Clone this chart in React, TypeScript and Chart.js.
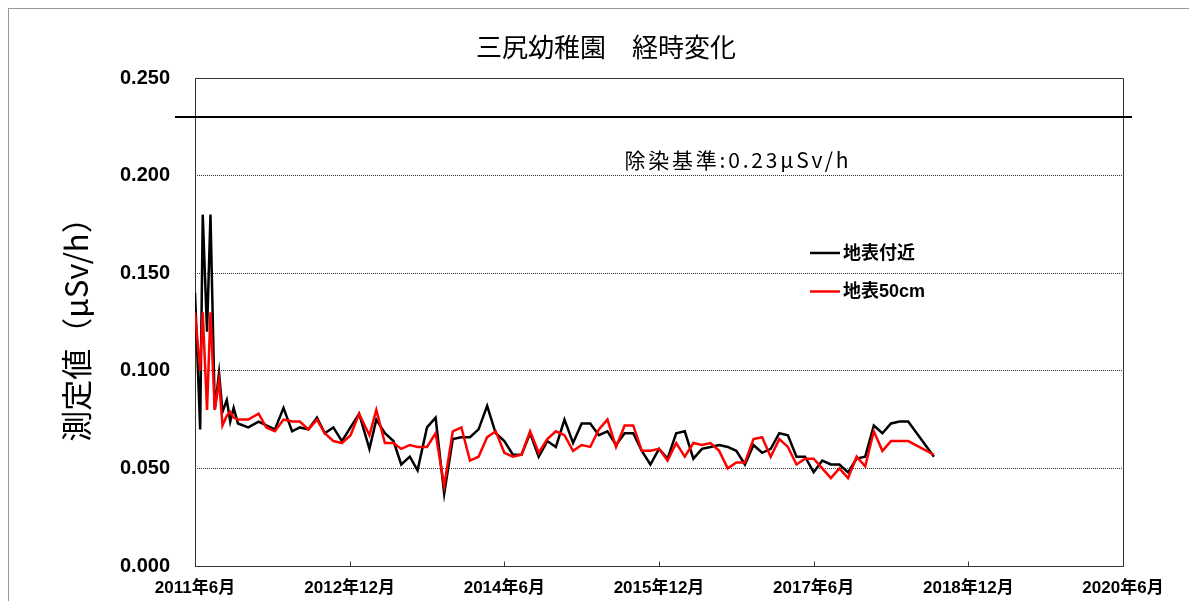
import React, { useEffect, useRef } from "react";
import { Chart, registerables } from "chart.js";

Chart.register(...registerables);

const TITLE = "三尻幼稚園　経時変化";
const Y_TITLE = "測定値（μSv/h）";
const SERIES_LABELS = ["地表付近", "地表50cm"];
const SERIES_COLORS = ["#000000", "#ff0000"];
const LIMIT_VALUE = 0.23;
const LIMIT_LABEL = "除染基準:0.23μSv/h";

// x axis: months elapsed since 2011年6月
const X_TICK_LABELS = ["2011年6月", "2012年12月", "2014年6月", "2015年12月", "2017年6月", "2018年12月", "2020年6月"];
const X_TICK_STEP = 18;
const Y_MAX = 0.25;
const Y_STEP = 0.05;

const MONTHS = [
  0, 0.6, 0.9, 1.4, 1.8, 2.3, 2.8, 3.2, 3.7, 4.1, 4.5, 5.0, 6.2, 7.4, 8.3, 9.3, 10.3, 11.3, 12.2, 13.2,
  14.2, 15.1, 16.1, 17.1, 18.1, 19.1, 20.3, 21.1, 22.1, 23.1, 24.0, 25.0, 25.9,
  27, 28, 29, 30, 31, 32, 33, 34, 35, 36, 37, 38, 39, 40, 41, 42, 43, 44, 45, 46, 47, 48, 49, 50,
  51, 52, 53, 54, 55, 56, 57, 58, 59, 60, 61, 62, 63, 64, 65, 66, 67, 68, 69, 70, 71, 72, 73, 74,
  75, 76, 77, 78, 79, 80, 81, 82, 83, 86,
];

const SURFACE = [
  0.140, 0.070, 0.180, 0.120, 0.180, 0.080, 0.099, 0.079, 0.085, 0.074, 0.081, 0.073, 0.071, 0.074, 0.072, 0.070, 0.081, 0.069, 0.071, 0.070,
  0.076, 0.068, 0.071, 0.064, 0.071, 0.078, 0.060, 0.075, 0.068, 0.064, 0.052, 0.056, 0.049,
  0.071, 0.076, 0.037, 0.065, 0.066, 0.066, 0.070, 0.082, 0.068, 0.064, 0.057, 0.057, 0.068, 0.056, 0.064, 0.061, 0.075, 0.063, 0.073, 0.073, 0.067, 0.069, 0.062, 0.068,
  0.068, 0.059, 0.052, 0.060, 0.055, 0.068, 0.069, 0.055, 0.060, 0.061, 0.062, 0.061, 0.059, 0.052, 0.062, 0.058, 0.060, 0.068, 0.067, 0.056, 0.056, 0.048, 0.054, 0.052,
  0.052, 0.048, 0.055, 0.056, 0.072, 0.068, 0.073, 0.074, 0.074, 0.056,
];

const CM50 = [
  0.130, 0.100, 0.130, 0.080, 0.130, 0.080, 0.095, 0.072, 0.077, 0.079, 0.076, 0.075, 0.075, 0.078, 0.071, 0.069, 0.075, 0.074, 0.074, 0.070,
  0.075, 0.068, 0.064, 0.063, 0.067, 0.078, 0.067, 0.080, 0.063, 0.063, 0.060, 0.062, 0.061,
  0.061, 0.068, 0.041, 0.069, 0.071, 0.054, 0.056, 0.066, 0.069, 0.058, 0.056, 0.057, 0.069, 0.058, 0.065, 0.069, 0.067, 0.059, 0.062, 0.061, 0.070, 0.075, 0.061, 0.072,
  0.072, 0.059, 0.059, 0.060, 0.054, 0.063, 0.056, 0.063, 0.062, 0.063, 0.059, 0.050, 0.053, 0.053, 0.065, 0.066, 0.056, 0.065, 0.061, 0.052, 0.055, 0.055, 0.050, 0.045,
  0.050, 0.045, 0.056, 0.051, 0.069, 0.059, 0.064, 0.064, 0.064, 0.057,
];

const CJK = '"Noto Sans CJK JP", "Noto Sans", sans-serif';
const LATIN = '"Liberation Sans", Arial, "Noto Sans CJK JP", sans-serif';

const overlayPlugin = {
  id: "overlay",
  beforeDatasetsDraw(chart: any) {
    const { ctx, chartArea: a, scales } = chart;
    const x = scales.x;
    const y = scales.y;
    ctx.save();
    // plot frame
    ctx.strokeStyle = "#333";
    ctx.lineWidth = 1;
    const l = Math.round(a.left) + 0.5;
    const t = Math.round(a.top) + 0.5;
    const r = Math.round(a.right) + 0.5;
    const b = Math.round(a.bottom) + 0.5;
    ctx.beginPath();
    ctx.moveTo(l, t);
    ctx.lineTo(r, t);
    ctx.lineTo(r, b);
    ctx.lineTo(l, b);
    ctx.closePath();
    ctx.stroke();
    // x tick marks pointing inward
    X_TICK_LABELS.forEach((_, i) => {
      const px = Math.round(x.getPixelForValue(i * X_TICK_STEP)) + 0.5;
      ctx.beginPath();
      ctx.moveTo(px, b);
      ctx.lineTo(px, b - 5);
      ctx.stroke();
    });
    // limit line
    const ly = Math.round(y.getPixelForValue(LIMIT_VALUE));
    ctx.strokeStyle = "#000";
    ctx.lineWidth = 2;
    ctx.beginPath();
    ctx.moveTo(a.left - 20, ly);
    ctx.lineTo(a.right + 9, ly);
    ctx.stroke();
    ctx.fillStyle = "#000";
    ctx.font = `21px ${CJK}`;
    (ctx as any).letterSpacing = "2.8px";
    ctx.textAlign = "center";
    ctx.textBaseline = "middle";
    ctx.fillText(LIMIT_LABEL, a.left + 0.585 * (a.right - a.left), y.getPixelForValue(0.208));
    (ctx as any).letterSpacing = "0px";
    // main title
    ctx.font = `26px ${CJK}`;
    ctx.fillText(TITLE, 597, 38);
    ctx.restore();
  },
  afterDatasetsDraw(chart: any) {
    const { ctx, chartArea: a } = chart;
    ctx.save();
    const lx = a.left + 615;
    const ly0 = a.top + 175;
    SERIES_LABELS.forEach((label, i) => {
      const yy = ly0 + i * 38.5;
      ctx.strokeStyle = SERIES_COLORS[i];
      ctx.lineWidth = 2.5;
      ctx.beginPath();
      ctx.moveTo(lx, yy);
      ctx.lineTo(lx + 30, yy);
      ctx.stroke();
      ctx.fillStyle = "#000";
      ctx.font = `bold 18px ${LATIN}`;
      ctx.textAlign = "left";
      ctx.textBaseline = "middle";
      ctx.fillText(label, lx + 33, yy + 1);
    });
    ctx.restore();
  },
};

export default function App() {
  const ref = useRef<HTMLCanvasElement | null>(null);

  useEffect(() => {
    document.documentElement.style.overflow = "hidden";
    document.body.style.overflow = "hidden";
    const canvas = ref.current;
    if (!canvas) return;
    const seriesData = [SURFACE, CM50];
    const chart = new Chart(canvas, {
      type: "line",
      data: {
        datasets: seriesData.map((vals, si) => ({
          label: SERIES_LABELS[si],
          data: vals.map((v, i) => ({ x: MONTHS[i], y: v })),
          borderColor: SERIES_COLORS[si],
          backgroundColor: SERIES_COLORS[si],
          borderWidth: 2.5,
          pointRadius: 0,
          tension: 0,
          fill: false,
          order: si === 0 ? 2 : 1,
        })),
      },
      options: {
        responsive: false,
        animation: false,
        devicePixelRatio: 1,
        layout: { padding: { left: 0, right: 66, top: 69, bottom: 0 } },
        plugins: {
          legend: { display: false },
          tooltip: { enabled: false },
          title: { display: false },
        },
        scales: {
          x: {
            type: "linear",
            min: 0,
            max: X_TICK_STEP * (X_TICK_LABELS.length - 1),
            afterBuildTicks: (scale: any) => {
              scale.ticks = X_TICK_LABELS.map((_, i) => ({ value: i * X_TICK_STEP }));
            },
            afterFit: (scale: any) => {
              scale.height = 35;
            },
            ticks: {
              autoSkip: false,
              maxRotation: 0,
              minRotation: 0,
              padding: 12,
              color: "#000",
              font: { family: LATIN, size: 17, weight: "bold" },
              callback: (v: any) => X_TICK_LABELS[Math.round(Number(v) / X_TICK_STEP)] ?? "",
            },
            grid: { display: false, drawTicks: false },
            border: { display: false },
          },
          y: {
            min: 0,
            max: Y_MAX,
            afterFit: (scale: any) => {
              scale.width = 186;
              scale.paddingTop = 0;
              scale.paddingBottom = 0;
            },
            ticks: {
              stepSize: Y_STEP,
              padding: 25,
              color: "#000",
              font: { family: LATIN, size: 20, weight: "bold" },
              callback: (v: any) => Number(v).toFixed(3),
            },
            grid: { color: "#333", lineWidth: 1, drawTicks: false },
            border: { display: false, dash: [1, 1] },
            title: {
              display: true,
              text: Y_TITLE,
              color: "#000",
              font: { family: CJK, size: 31, weight: "normal" },
              padding: { top: 49, bottom: 0 },
            },
          },
        },
      },
      plugins: [overlayPlugin],
    } as any);
    return () => chart.destroy();
  }, []);

  return (
    <div style={{ width: 1180, height: 592, borderLeft: "1px solid #999", borderTop: "1px solid #999" }}>
      <canvas ref={ref} width={1180} height={592} style={{ display: "block", width: 1180, height: 592 }} />
    </div>
  );
}
